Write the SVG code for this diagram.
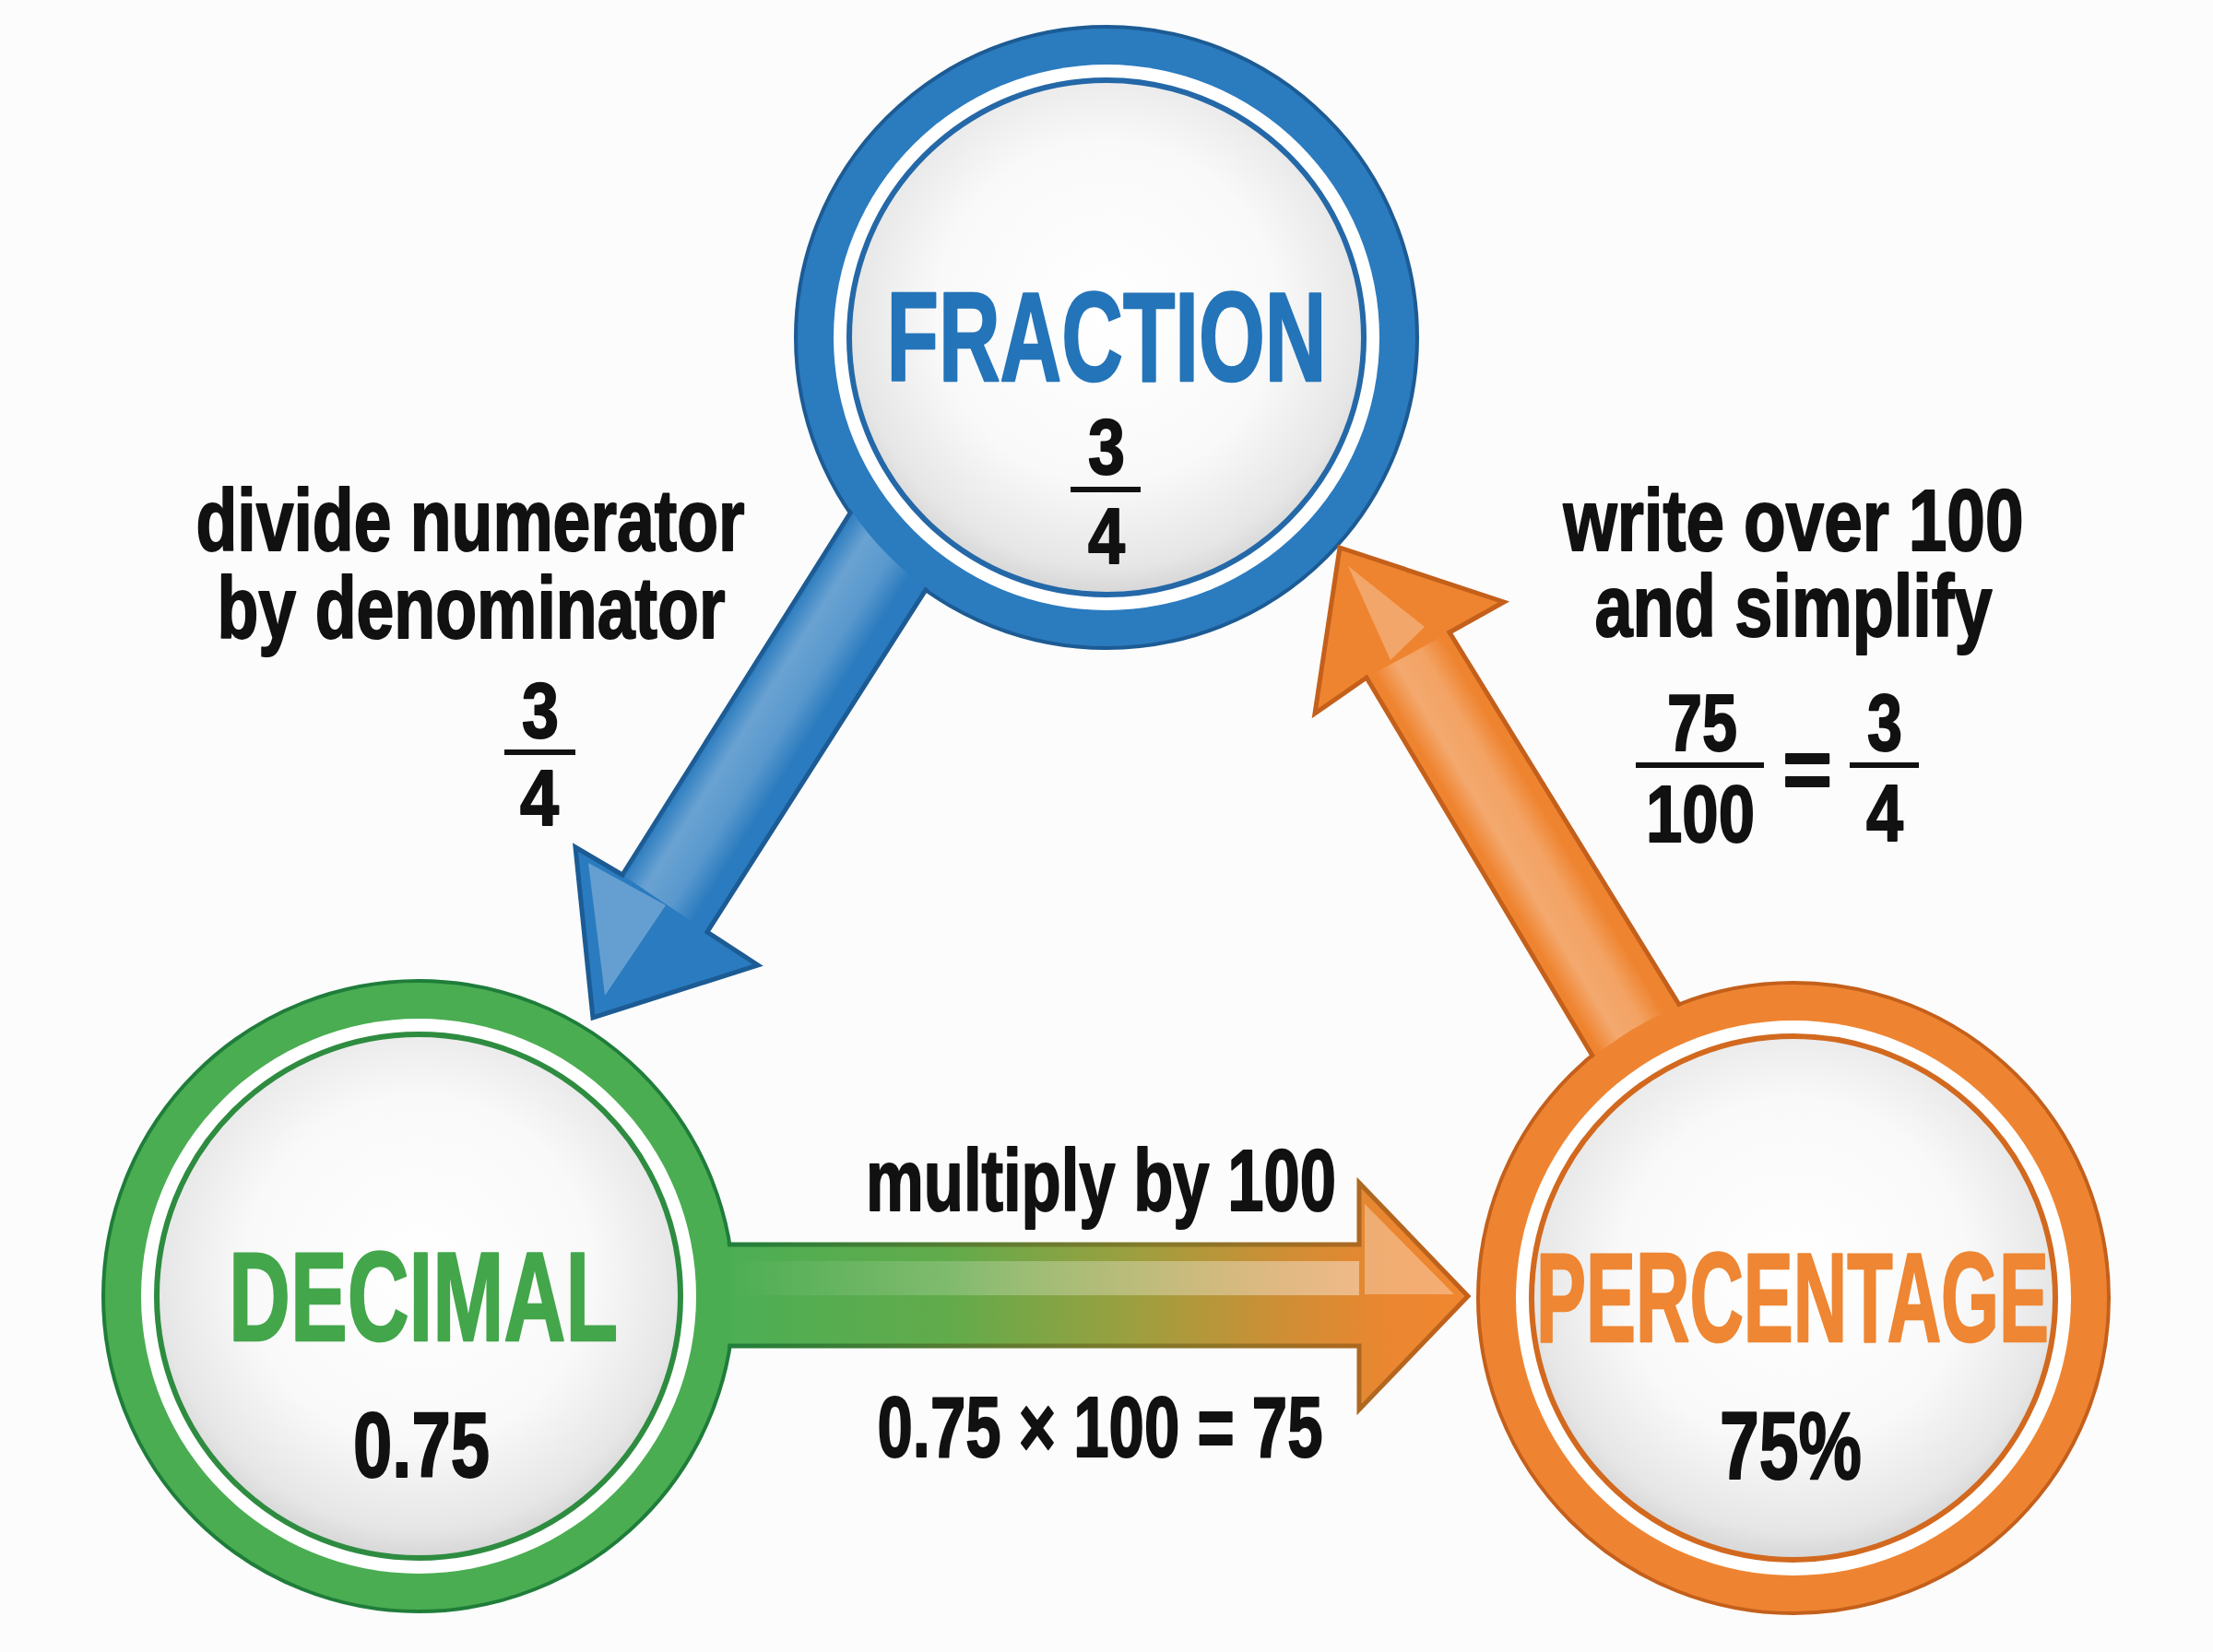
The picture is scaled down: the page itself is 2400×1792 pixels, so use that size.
<svg xmlns="http://www.w3.org/2000/svg" width="2400" height="1792" viewBox="0 0 2400 1792">
<style>
text{font-family:"Liberation Sans",Arial,sans-serif;font-weight:700;text-anchor:middle;stroke-linejoin:round}
.lbl{font-size:94px;fill:#111;stroke:#111;stroke-width:2}
.num{font-size:86px;fill:#111;stroke:#111;stroke-width:2}
.title{font-size:137px;stroke-width:2.5}
.bar{fill:#111}
.gap{fill:#ffffff}
</style>
<defs>
<radialGradient id="disk" cx="0.5" cy="0.45" r="0.55">
<stop offset="0" stop-color="#ffffff"/>
<stop offset="0.6" stop-color="#f9f9f9"/>
<stop offset="0.9" stop-color="#e6e6e6"/>
<stop offset="1" stop-color="#d6d6d6"/>
</radialGradient>
<linearGradient id="gH" x1="790" y1="0" x2="1592" y2="0" gradientUnits="userSpaceOnUse">
<stop offset="0" stop-color="#4cae54"/>
<stop offset="0.3" stop-color="#62ab4b"/>
<stop offset="0.55" stop-color="#9d9f3f"/>
<stop offset="0.75" stop-color="#cf8e35"/>
<stop offset="0.9" stop-color="#ec8630"/>
<stop offset="1" stop-color="#f08630"/>
</linearGradient>
<linearGradient id="gHs" x1="790" y1="0" x2="1592" y2="0" gradientUnits="userSpaceOnUse">
<stop offset="0" stop-color="#217f3b"/>
<stop offset="0.55" stop-color="#7f7a2b"/>
<stop offset="1" stop-color="#c4601b"/>
</linearGradient>
<linearGradient id="gHl" x1="790" y1="0" x2="1480" y2="0" gradientUnits="userSpaceOnUse">
<stop offset="0" stop-color="#ffffff" stop-opacity="0"/>
<stop offset="0.45" stop-color="#ffffff" stop-opacity="0.25"/>
<stop offset="1" stop-color="#ffffff" stop-opacity="0.42"/>
</linearGradient>
<linearGradient id="gBl" x1="922" y1="556" x2="1019" y2="617" gradientUnits="userSpaceOnUse">
<stop offset="0" stop-color="#ffffff" stop-opacity="0"/>
<stop offset="0.25" stop-color="#ffffff" stop-opacity="0.3"/>
<stop offset="0.55" stop-color="#ffffff" stop-opacity="0.22"/>
<stop offset="0.8" stop-color="#ffffff" stop-opacity="0"/>
</linearGradient>
<linearGradient id="gOl" x1="1482" y1="735" x2="1570" y2="683" gradientUnits="userSpaceOnUse">
<stop offset="0.1" stop-color="#ffffff" stop-opacity="0"/>
<stop offset="0.35" stop-color="#ffffff" stop-opacity="0.3"/>
<stop offset="0.65" stop-color="#ffffff" stop-opacity="0.25"/>
<stop offset="0.9" stop-color="#ffffff" stop-opacity="0"/>
</linearGradient>
<clipPath id="clipBlue"><path clip-rule="evenodd" d="M0 0H2400V1792H0Z M865.5 366a334.5 334.5 0 1 0 669 0a334.5 334.5 0 1 0 -669 0Z"/></clipPath>
<clipPath id="clipGreen"><path clip-rule="evenodd" d="M0 0H2400V1792H0Z M114.5 1406a339.5 339.5 0 1 0 679 0a339.5 339.5 0 1 0 -679 0Z"/></clipPath>
<clipPath id="clipOrange"><path clip-rule="evenodd" d="M0 0H2400V1792H0Z M1605.5 1408a339.5 339.5 0 1 0 679 0a339.5 339.5 0 1 0 -679 0Z"/></clipPath>
</defs>
<rect width="2400" height="1792" fill="#fcfcfc"/>

<g id="node-fraction">
<circle cx="1200" cy="366" r="337" fill="#2b7bbf" stroke="#1c5b94" stroke-width="4"/>
<circle class="gap" cx="1200" cy="366" r="296"/>
<circle cx="1200" cy="366" r="279" fill="url(#disk)" stroke="#2468a8" stroke-width="6"/>
<text class="title" x="1200" y="413" fill="#2474b9" stroke="#2474b9" textLength="477" lengthAdjust="spacingAndGlyphs">FRACTION</text>
<text class="num" x="1200" y="514" textLength="40" lengthAdjust="spacingAndGlyphs">3</text>
<rect class="bar" x="1161" y="528" width="76" height="6"/>
<text class="num" x="1200" y="611" textLength="40" lengthAdjust="spacingAndGlyphs">4</text>
</g>

<g id="node-decimal">
<circle cx="454" cy="1406" r="342" fill="#4aad52" stroke="#1f7d3a" stroke-width="4"/>
<circle class="gap" cx="454" cy="1406" r="301"/>
<circle cx="454" cy="1406" r="284" fill="url(#disk)" stroke="#2e8c40" stroke-width="6"/>
<text class="title" x="459" y="1454" fill="#43a64b" stroke="#43a64b" textLength="422" lengthAdjust="spacingAndGlyphs">DECIMAL</text>
<text class="num" x="457" y="1602" style="font-size:100px" textLength="148" lengthAdjust="spacingAndGlyphs">0.75</text>
</g>

<g id="node-percentage">
<circle cx="1945" cy="1408" r="342" fill="#ee8431" stroke="#c4601b" stroke-width="4"/>
<circle class="gap" cx="1945" cy="1408" r="301"/>
<circle cx="1945" cy="1408" r="284" fill="url(#disk)" stroke="#d2691f" stroke-width="6"/>
<text class="title" x="1944" y="1455" fill="#ee8633" stroke="#ee8633" textLength="556" lengthAdjust="spacingAndGlyphs">PERCENTAGE</text>
<text class="num" x="1942" y="1604" style="font-size:104px" textLength="154" lengthAdjust="spacingAndGlyphs">75%</text>
</g>

<g id="connectors">
<g id="edge-fraction-decimal" clip-path="url(#clipBlue)">
<polygon points="986,455 675,949 624,919 643,1104 822,1047 767,1011 1069,538" fill="#2a7bbf" stroke="#1c5b94" stroke-width="5" stroke-linejoin="miter"/>
<polygon points="986,455 675,949 767,1011 1069,538" fill="url(#gBl)"/>
<polygon points="638,936 722,982 656,1080" fill="#ffffff" fill-opacity="0.28"/>
</g>
<g id="edge-decimal-percentage" clip-path="url(#clipGreen)">
<polygon points="700,1350 1474,1350 1474,1283 1592,1406 1474,1529 1474,1460 700,1460" fill="url(#gH)" stroke="url(#gHs)" stroke-width="5" stroke-linejoin="miter"/>
<rect x="700" y="1368" width="774" height="37" fill="url(#gHl)"/>
<polygon points="1480,1306 1577,1404 1480,1404" fill="#ffffff" fill-opacity="0.32"/>
</g>
<g id="edge-percentage-fraction" clip-path="url(#clipOrange)">
<polygon points="1453,594 1631,653 1572,686 1884,1192 1786,1244 1482,735 1426,774" fill="#ef8430" stroke="#c4601b" stroke-width="5" stroke-linejoin="miter"/>
<polygon points="1482,735 1572,686 1884,1192 1786,1244" fill="url(#gOl)"/>
<polygon points="1462,614 1545,680 1508,716" fill="#ffffff" fill-opacity="0.28"/>
</g>
</g>

<g id="labels">
<text class="lbl" x="510" y="597" textLength="595" lengthAdjust="spacingAndGlyphs">divide numerator</text>
<text class="lbl" x="511" y="692" textLength="551" lengthAdjust="spacingAndGlyphs">by denominator</text>
<text class="num" x="586" y="800" textLength="40" lengthAdjust="spacingAndGlyphs">3</text>
<rect class="bar" x="547" y="813" width="77" height="6"/>
<text class="num" x="585" y="895" textLength="42" lengthAdjust="spacingAndGlyphs">4</text>

<text class="lbl" x="1945" y="597" textLength="499" lengthAdjust="spacingAndGlyphs">write over 100</text>
<text class="lbl" x="1945" y="690" textLength="431" lengthAdjust="spacingAndGlyphs">and simplify</text>
<text class="num" x="1846" y="814" style="font-size:88px" textLength="76" lengthAdjust="spacingAndGlyphs">75</text>
<rect class="bar" x="1774" y="827" width="139" height="6"/>
<text class="num" x="1844" y="913" style="font-size:88px" textLength="118" lengthAdjust="spacingAndGlyphs">100</text>
<text class="num" x="1960" y="866" style="font-size:92px">=</text>
<text class="num" x="2044" y="814" style="font-size:88px" textLength="38" lengthAdjust="spacingAndGlyphs">3</text>
<rect class="bar" x="2006" y="827" width="75" height="6"/>
<text class="num" x="2044" y="912" style="font-size:88px" textLength="40" lengthAdjust="spacingAndGlyphs">4</text>

<text class="lbl" x="1194" y="1313" textLength="510" lengthAdjust="spacingAndGlyphs">multiply by 100</text>
<text class="lbl" x="1193" y="1580" style="font-size:92px" textLength="483" lengthAdjust="spacingAndGlyphs">0.75 × 100 = 75</text>
</g>
</svg>
